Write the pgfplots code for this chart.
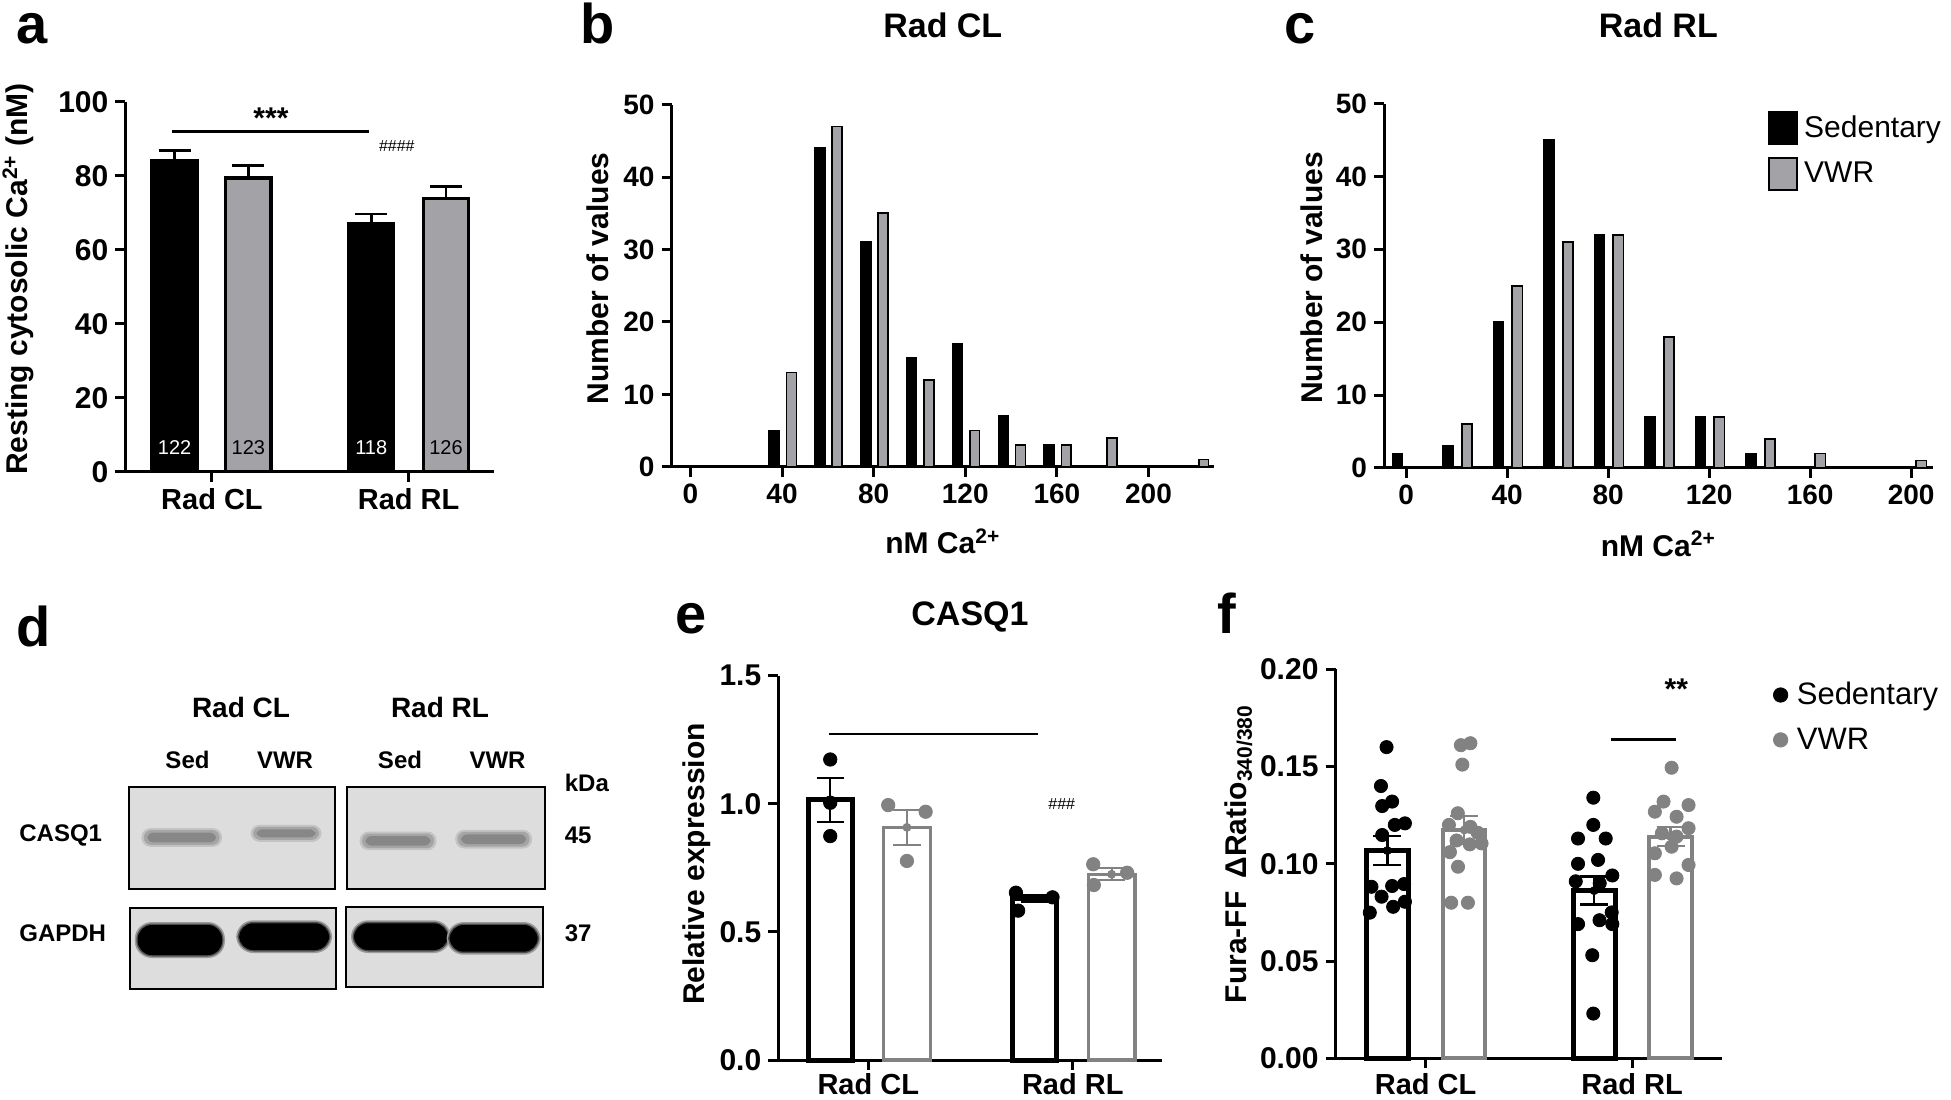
\documentclass[border=0pt]{standalone}
\usepackage{pgfplots}
\pgfplotsset{compat=1.18}
\usepackage{fontspec}
\setmainfont{Liberation Sans}
\definecolor{grayA}{RGB}{163,163,167}
\definecolor{grayE}{RGB}{130,130,130}
\definecolor{blotbg}{RGB}{221,221,221}
\definecolor{bandc}{RGB}{135,135,135}
\newcommand\fs[1]{\fontsize{#1}{#1}\selectfont}

\pgfplotsset{
 panel/.style={
   scale only axis, anchor=south west, clip=false,
   axis lines*=left,
   axis line style={line width=1.5pt, black},
   tick align=outside,
   major tick length=5pt,
   tick style={line width=1.5pt, black},
   tick label style={font=\fs{14}\bfseries},
   label style={font=\fs{15}\bfseries},
   every axis title/.style={font=\fs{17}\bfseries, anchor=center},
   /pgf/number format/assume math mode=true,
   ylabel style={anchor=center},
   xlabel style={anchor=center},
 },
 bigticks/.style={
   yticklabel style={font=\fs{15}\bfseries},
   xticklabel style={font=\fs{14.5}\bfseries},
 },
}

\begin{document}
\begin{tikzpicture}
\begin{scope}[x=0.5pt,y=-0.5pt]
\coordinate (A) at (125.4,471.8);
\coordinate (B) at (671.6,466.8);
\coordinate (C) at (1384,467.9);
\coordinate (E) at (778.3,1060);
\coordinate (F) at (1335.5,1058.3);
% panel letters
\node[anchor=base west, font=\fs{28}\bfseries, inner sep=0pt] at (16,43) {a};
\node[anchor=base west, font=\fs{28}\bfseries, inner sep=0pt] at (580,43) {b};
\node[anchor=base west, font=\fs{28}\bfseries, inner sep=0pt] at (1284,43) {c};
\node[anchor=base west, font=\fs{28}\bfseries, inner sep=0pt] at (16,646) {d};
\node[anchor=base west, font=\fs{28}\bfseries, inner sep=0pt] at (675,633) {e};
\node[anchor=base west, font=\fs{28}\bfseries, inner sep=0pt] at (1217,633) {f};
% panel d: western blot
\node[font=\fs{14}\bfseries] at (241,707) {Rad CL};
\node[font=\fs{14}\bfseries] at (440,707) {Rad RL};
\node[font=\fs{12}\bfseries] at (187.5,760) {Sed};
\node[font=\fs{12}\bfseries] at (285,760) {VWR};
\node[font=\fs{12}\bfseries] at (400,760) {Sed};
\node[font=\fs{12}\bfseries] at (497.5,760) {VWR};
\node[font=\fs{12}\bfseries, anchor=west, inner sep=0pt] at (564.5,783) {kDa};
\node[font=\fs{12}\bfseries, anchor=west, inner sep=0pt] at (19,835) {CASQ1};
\node[font=\fs{12}\bfseries, anchor=west, inner sep=0pt] at (19,933) {GAPDH};
\node[font=\fs{12}\bfseries, anchor=west, inner sep=0pt] at (564.5,835) {45};
\node[font=\fs{12}\bfseries, anchor=west, inner sep=0pt] at (564.5,933) {37};
\filldraw[fill=blotbg, draw=black, line width=1pt] (129,786.7) rectangle (334.9,889);
\filldraw[fill=blotbg, draw=black, line width=1pt] (347.1,786.7) rectangle (545.3,889);
\filldraw[fill=blotbg, draw=black, line width=1pt] (130.1,908.3) rectangle (336,988.7);
\filldraw[fill=blotbg, draw=black, line width=1pt] (345.6,906.7) rectangle (543.4,987.3);
% CASQ1 bands
\foreach \xa/\ya/\xb/\yb in {145.4/831.7/218.1/843.3, 254.5/828.3/317.6/838.3, 363.6/835/432.5/846.7, 459.2/833.3/528.1/845}{
  \fill[bandc!30!blotbg, rounded corners=4.5pt] (\xa-4,\ya-3.5) rectangle (\xb+4,\yb+3.5);
  \fill[bandc!65!blotbg, rounded corners=3.5pt] (\xa-1.5,\ya-1.5) rectangle (\xb+1.5,\yb+1.5);
  \fill[bandc, rounded corners=3pt] (\xa+2,\ya+1) rectangle (\xb-2,\yb-1);
}
% GAPDH bands
\foreach \xa/\ya/\xb/\yb in {137.8/925/222/955, 239.2/923.3/329.1/950, 354/923.3/447.8/950, 449.7/925/537.7/951.7}{
  \fill[black!30!blotbg, rounded corners=8.5pt] (\xa-3,\ya-3) rectangle (\xb+3,\yb+3);
  \fill[black!65!blotbg, rounded corners=8pt] (\xa-1.5,\ya-1.5) rectangle (\xb+1.5,\yb+1.5);
  \fill[black, rounded corners=7pt] (\xa,\ya) rectangle (\xb,\yb);
}
\end{scope}

% ---------------- panel a ----------------
\begin{axis}[panel, bigticks, at={(A)}, width=184.4pt, height=184.95pt,
  xmin=-0.44, xmax=1.435, ymin=0, ymax=100,
  xtick={0,1}, xticklabels={Rad CL,Rad RL},
  ytick={0,20,40,60,80,100},
  ylabel={Resting cytosolic Ca\textsuperscript{2+} (nM)},
  ylabel style={at={(axis description cs:-0.291,0.521)}},
]
\addplot[ybar, bar width=0.229, bar shift=0pt, fill=black, draw=black, line width=1.65pt,
  error bars/.cd, y dir=plus, y explicit,
  error bar style={line width=1.35pt, black},
  error mark options={rotate=90, line width=1.35pt, black, mark size=8pt}]
  coordinates {(-0.19,84.0) +- (0,2.8) (0.81,67.0) +- (0,2.7)};
\addplot[ybar, bar width=0.229, bar shift=0pt, fill=grayA, draw=black, line width=1.65pt,
  error bars/.cd, y dir=plus, y explicit,
  error bar style={line width=1.35pt, black},
  error mark options={rotate=90, line width=1.35pt, black, mark size=8pt}]
  coordinates {(0.185,79.4) +- (0,3.4) (1.19,73.8) +- (0,3.4)};
\node[font=\fs{10}, text=white] at (axis cs:-0.19,6.5) {122};
\node[font=\fs{10}] at (axis cs:0.185,6.5) {123};
\node[font=\fs{10}, text=white] at (axis cs:0.81,6.5) {118};
\node[font=\fs{10}] at (axis cs:1.19,6.5) {126};
\draw[line width=1.5pt] (axis cs:-0.204,92) -- (axis cs:0.799,92);
\node[font=\fs{15}\bfseries] at (axis cs:0.30,95.5) {***};
\node[font=\fs{8}] at (axis cs:0.94,88) {\#\#\#\#};
\end{axis}

% ---------------- panel b ----------------
\begin{axis}[panel, at={(B)}, width=271.2pt, height=181.1pt,
  xmin=-8.2, xmax=228.6, ymin=0, ymax=50,
  xtick={0,40,80,120,160,200}, ytick={0,10,20,30,40,50},
  xlabel={nM Ca\textsuperscript{2+}}, ylabel={Number of values}, title={Rad CL},
  xlabel style={at={(axis description cs:0.5,-0.205)}},
  ylabel style={at={(axis description cs:-0.1357,0.52)}},
  title style={at={(axis description cs:0.5,1.22)}},
]
\addplot[ybar, bar width=4.3, bar shift=0pt, fill=black, draw=black, line width=0.8pt]
  coordinates {(36.6,5) (56.6,44) (76.6,31) (96.6,15) (116.6,17) (136.6,7) (156.6,3)};
\addplot[ybar, bar width=4.3, bar shift=0pt, fill=grayA, draw=black, line width=0.8pt]
  coordinates {(44.1,13) (64.1,47) (84.1,35) (104.1,12) (124.1,5) (144.1,3) (164.1,3) (184.1,4) (224.1,1)};
\end{axis}

% ---------------- panel c ----------------
\begin{axis}[panel, at={(C)}, width=274.3pt, height=182.15pt,
  xmin=-8.8, xmax=208.5, ymin=0, ymax=50,
  xtick={0,40,80,120,160,200}, ytick={0,10,20,30,40,50},
  xlabel={nM Ca\textsuperscript{2+}}, ylabel={Number of values}, title={Rad RL},
  xlabel style={at={(axis description cs:0.5,-0.208)}},
  ylabel style={at={(axis description cs:-0.131,0.521)}},
  title style={at={(axis description cs:0.5,1.216)}},
  legend image code/.code={\draw[#1] (0pt,-8pt) rectangle (14pt,8pt); \path (15pt,0pt);},
  legend style={at={(axis description cs:0.6996,0.9805)}, anchor=north west, draw=none, fill=none,
    inner sep=0pt, row sep=6pt, font=\fs{15}\mdseries},
  legend cell align=left,
]
\addplot[forget plot, ybar, bar width=4.0, bar shift=0pt, fill=black, draw=black, line width=0.8pt]
  coordinates {(-3.4,2) (16.6,3) (36.6,20) (56.6,45) (76.6,32) (96.6,7) (116.6,7) (136.6,2)};
\addplot[forget plot, ybar, bar width=4.0, bar shift=0pt, fill=grayA, draw=black, line width=0.8pt]
  coordinates {(24,6) (44,25) (64,31) (84,32) (104,18) (124,7) (144,4) (164,2) (204,1)};
\addlegendimage{fill=black, draw=black, line width=0.8pt}
\addlegendentry{Sedentary}
\addlegendimage{fill=grayA, draw=black, line width=1pt}
\addlegendentry{VWR}
\end{axis}

% ---------------- panel e ----------------
\begin{axis}[panel, bigticks, at={(E)}, width=191.7pt, height=192.15pt,
  xmin=-0.44, xmax=1.435, ymin=0, ymax=1.5,
  xtick={0,1}, xticklabels={Rad CL,Rad RL},
  xticklabel style={yshift=2pt},
  ytick={0,0.5,1,1.5},
  yticklabel style={/pgf/number format/.cd, fixed, fixed zerofill, precision=1},
  ylabel={Relative expression},
  ylabel style={at={(axis description cs:-0.213,0.51)}},
  title={CASQ1},
  title style={at={(axis description cs:0.5,1.153)}},
]
\addplot[ybar, bar width=0.215, bar shift=0pt, fill=white, draw=black, line width=2.5pt]
  coordinates {(-0.186,1.015) (0.815,0.631)};
\addplot[ybar, bar width=0.228, bar shift=0pt, fill=white, draw=grayE, line width=1.7pt]
  coordinates {(0.189,0.908) (1.19,0.725)};
\addplot[only marks, mark=*, mark size=3.35pt, black]
  coordinates {(-0.186,1.173) (-0.186,1.004) (-0.186,0.874) (0.722,0.653) (0.901,0.635) (0.733,0.583)};
\addplot[only marks, mark=*, mark size=3.35pt, grayE, mark options={draw=grayE, fill=grayE}]
  coordinates {(0.0975,0.995) (0.2805,0.969) (0.189,0.777) (1.10,0.764) (1.266,0.731) (1.103,0.683)};
\addplot[only marks, mark=none, black,
  error bars/.cd, y dir=both, y explicit,
  error bar style={line width=1pt, black},
  error mark options={rotate=90, line width=1pt, black, mark size=6.8pt}]
  coordinates {(-0.186,1.015) +- (0,0.087) (0.815,0.631) +- (0,0.015)};
\addplot[only marks, mark=none, grayE,
  error bars/.cd, y dir=both, y explicit,
  error bar style={line width=1pt, grayE},
  error mark options={rotate=90, line width=1pt, grayE, mark size=6.8pt}]
  coordinates {(0.189,0.908) +- (0,0.068) (1.19,0.725) +- (0,0.023)};
\draw[line width=1.3pt] (axis cs:-0.191,1.272) -- (axis cs:0.831,1.272);
\node[font=\fs{8}] at (axis cs:0.946,1.0) {\#\#\#};
\end{axis}

% ---------------- panel f ----------------
\begin{axis}[panel, bigticks, at={(F)}, width=193.25pt, height=194.5pt,
  xmin=-0.436, xmax=1.435, ymin=0, ymax=0.2,
  xtick={0,1}, xticklabels={Rad CL,Rad RL},
  xticklabel style={yshift=1pt},
  ytick={0,0.05,0.1,0.15,0.2},
  yticklabel style={/pgf/number format/.cd, fixed, fixed zerofill, precision=2},
  ylabel={Fura-FF \,ΔRatio\textsubscript{340/380}},
  ylabel style={at={(axis description cs:-0.251,0.525)}},
  legend image code/.code={\fill[#1] (3.6pt,0pt) circle (3.6pt); \path (9.5pt,0pt);},
  legend style={at={(axis description cs:1.131,0.978)}, anchor=north west, draw=none, fill=none,
    inner sep=0pt, row sep=6pt, font=\fs{15.5}\mdseries},
  legend cell align=left,
]
\addplot[forget plot, ybar, bar width=0.203, bar shift=0pt, fill=white, draw=black, line width=2.5pt]
  coordinates {(-0.185,0.1068) (0.816,0.0862)};
\addplot[forget plot, ybar, bar width=0.206, bar shift=0pt, fill=white, draw=grayE, line width=2pt]
  coordinates {(0.187,0.1174) (1.186,0.114)};
\addplot[forget plot, only marks, mark=*, mark size=3.3pt, black]
  coordinates {(-0.189,0.160) (-0.216,0.140) (-0.162,0.132) (-0.210,0.1297) (-0.149,0.120) (-0.100,0.1208)
  (-0.210,0.1148) (-0.262,0.0882) (-0.162,0.0886) (-0.104,0.0896) (-0.213,0.0831) (-0.100,0.0805)
  (-0.157,0.0779) (-0.270,0.0749)
  (0.812,0.134) (0.812,0.120) (0.738,0.113) (0.872,0.113) (0.835,0.102) (0.738,0.100) (0.904,0.094)
  (0.727,0.091) (0.843,0.090) (0.901,0.075) (0.842,0.071) (0.738,0.069) (0.904,0.069) (0.807,0.053) (0.812,0.023)};
\addplot[forget plot, only marks, mark=*, mark size=3.3pt, grayE, mark options={draw=grayE, fill=grayE}]
  coordinates {(0.171,0.161) (0.217,0.162) (0.178,0.151) (0.156,0.126) (0.113,0.120) (0.217,0.119)
  (0.252,0.116) (0.150,0.112) (0.214,0.110) (0.271,0.1105) (0.118,0.106) (0.157,0.0985) (0.124,0.080) (0.205,0.080)
  (1.191,0.1494) (1.152,0.132) (1.273,0.1302) (1.110,0.1268) (1.215,0.1242) (1.273,0.1183) (1.144,0.1157)
  (1.215,0.114) (1.110,0.1054) (1.191,0.1088) (1.273,0.0994) (1.110,0.0943) (1.215,0.0925)};
\addplot[forget plot, only marks, mark=none, black,
  error bars/.cd, y dir=both, y explicit,
  error bar style={line width=1.2pt, black},
  error mark options={rotate=90, line width=1.2pt, black, mark size=7pt}]
  coordinates {(-0.185,0.1068) +- (0,0.0075) (0.816,0.0862) +- (0,0.0072)};
\addplot[forget plot, only marks, mark=none, grayE,
  error bars/.cd, y dir=both, y explicit,
  error bar style={line width=1.2pt, grayE},
  error mark options={rotate=90, line width=1.2pt, grayE, mark size=7pt}]
  coordinates {(0.187,0.1174) +- (0,0.0072) (1.186,0.114) +- (0,0.0048)};
\draw[line width=1.5pt] (axis cs:0.897,0.164) -- (axis cs:1.21,0.164);
\node[font=\fs{15}\bfseries] at (axis cs:1.214,0.190) {**};
\addlegendimage{black}
\addlegendentry{Sedentary}
\addlegendimage{grayE}
\addlegendentry{VWR}
\end{axis}
\pgfresetboundingbox
\path[use as bounding box] (0pt,0pt) rectangle (975.5pt,-549.5pt);
\end{tikzpicture}
\end{document}
